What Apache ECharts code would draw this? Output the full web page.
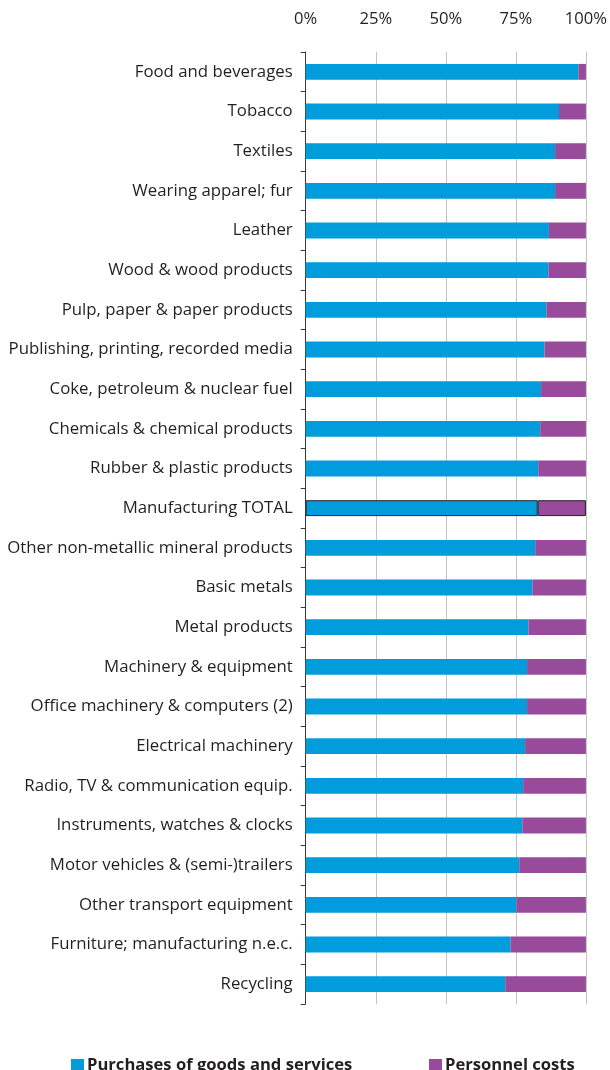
<!DOCTYPE html>
<html>
<head>
<meta charset="utf-8">
<script src="https://cdn.jsdelivr.net/npm/echarts@6/dist/echarts.min.js"></script>
<style>html,body{margin:0;padding:0;background:#fff}#c{width:610px;height:1070px}</style>
</head>
<body>
<div id="c"></div>
<script>
var categories = [
  "Food and beverages","Tobacco","Textiles","Wearing apparel; fur","Leather",
  "Wood & wood products","Pulp, paper & paper products","Publishing, printing, recorded media",
  "Coke, petroleum & nuclear fuel","Chemicals & chemical products","Rubber & plastic products",
  "Manufacturing TOTAL","Other non-metallic mineral products","Basic metals","Metal products",
  "Machinery & equipment","Office machinery & computers (2)","Electrical machinery",
  "Radio, TV & communication equip.","Instruments, watches & clocks","Motor vehicles & (semi-)trailers",
  "Other transport equipment","Furniture; manufacturing n.e.c.","Recycling"
];
var purchases = [97.3,90.4,89.0,89.0,86.8,86.6,85.9,85.2,84.0,83.7,83.0,82.8,81.9,80.9,79.5,79.0,79.0,78.3,77.6,77.3,76.2,75.2,73.1,71.2];
var personnel = [2.7,9.6,11.0,11.0,13.2,13.4,14.1,14.8,16.0,16.3,17.0,17.2,18.1,19.1,20.5,21.0,21.0,21.7,22.4,22.7,23.8,24.8,26.9,28.8];
var tickLabels = ["0%","25%","50%","75%","100%"];
var seriesNames = ["Purchases of goods and services","Personnel costs"];

var BLUE = "#009cdc", PURPLE = "#984b9a";
var FONT = "Open Sans";
var totalIdx = categories.indexOf("Manufacturing TOTAL");

function mk(arr, color) {
  return arr.map(function (v, i) {
    if (i === totalIdx) return { value: v, itemStyle: { color: color, borderColor: "#222", borderWidth: 1 } };
    return v;
  });
}

var chart = echarts.init(document.getElementById("c"), null, { renderer: "canvas" });
chart.setOption({
  animation: false,
  textStyle: { fontFamily: FONT },
  grid: { left: 305.7, right: 23.3, top: 52, bottom: 66 },
  legend: [
    { data: [seriesNames[0]], left: 66, top: 1052, itemWidth: 13, itemHeight: 13, icon: "rect",
      textStyle: { fontFamily: FONT, fontWeight: "bold", fontSize: 16.6, color: "#231f20", padding: [0,0,0,-2] } },
    { data: [seriesNames[1]], left: 424, top: 1052, itemWidth: 13, itemHeight: 13, icon: "rect",
      textStyle: { fontFamily: FONT, fontWeight: "bold", fontSize: 16.6, color: "#231f20", padding: [0,0,0,-2] } }
  ],
  xAxis: {
    type: "value", position: "top", min: 0, max: 100, interval: 25,
    axisLine: { show: false }, axisTick: { show: false },
    axisLabel: { margin: 24, fontSize: 16.6, color: "#231f20", fontFamily: FONT,
      formatter: function (v) { return tickLabels[Math.round(v / 25)]; } },
    splitLine: { show: true, lineStyle: { color: "#c4c4c4", width: 1 } }
  },
  yAxis: {
    type: "category", data: categories, inverse: true,
    axisLine: { show: true, lineStyle: { color: "#3a3a3a", width: 1 } },
    axisTick: { show: true, inside: false, length: 5, lineStyle: { color: "#3a3a3a" } },
    axisLabel: { margin: 13, fontSize: 16.8, color: "#231f20", fontFamily: FONT },
    splitLine: { show: false }
  },
  series: [
    { name: seriesNames[0], type: "bar", stack: "a", data: mk(purchases, BLUE), barWidth: "40%",
      itemStyle: { color: BLUE } },
    { name: seriesNames[1], type: "bar", stack: "a", data: mk(personnel, PURPLE), barWidth: "40%",
      itemStyle: { color: PURPLE } }
  ]
});
</script>
</body>
</html>
